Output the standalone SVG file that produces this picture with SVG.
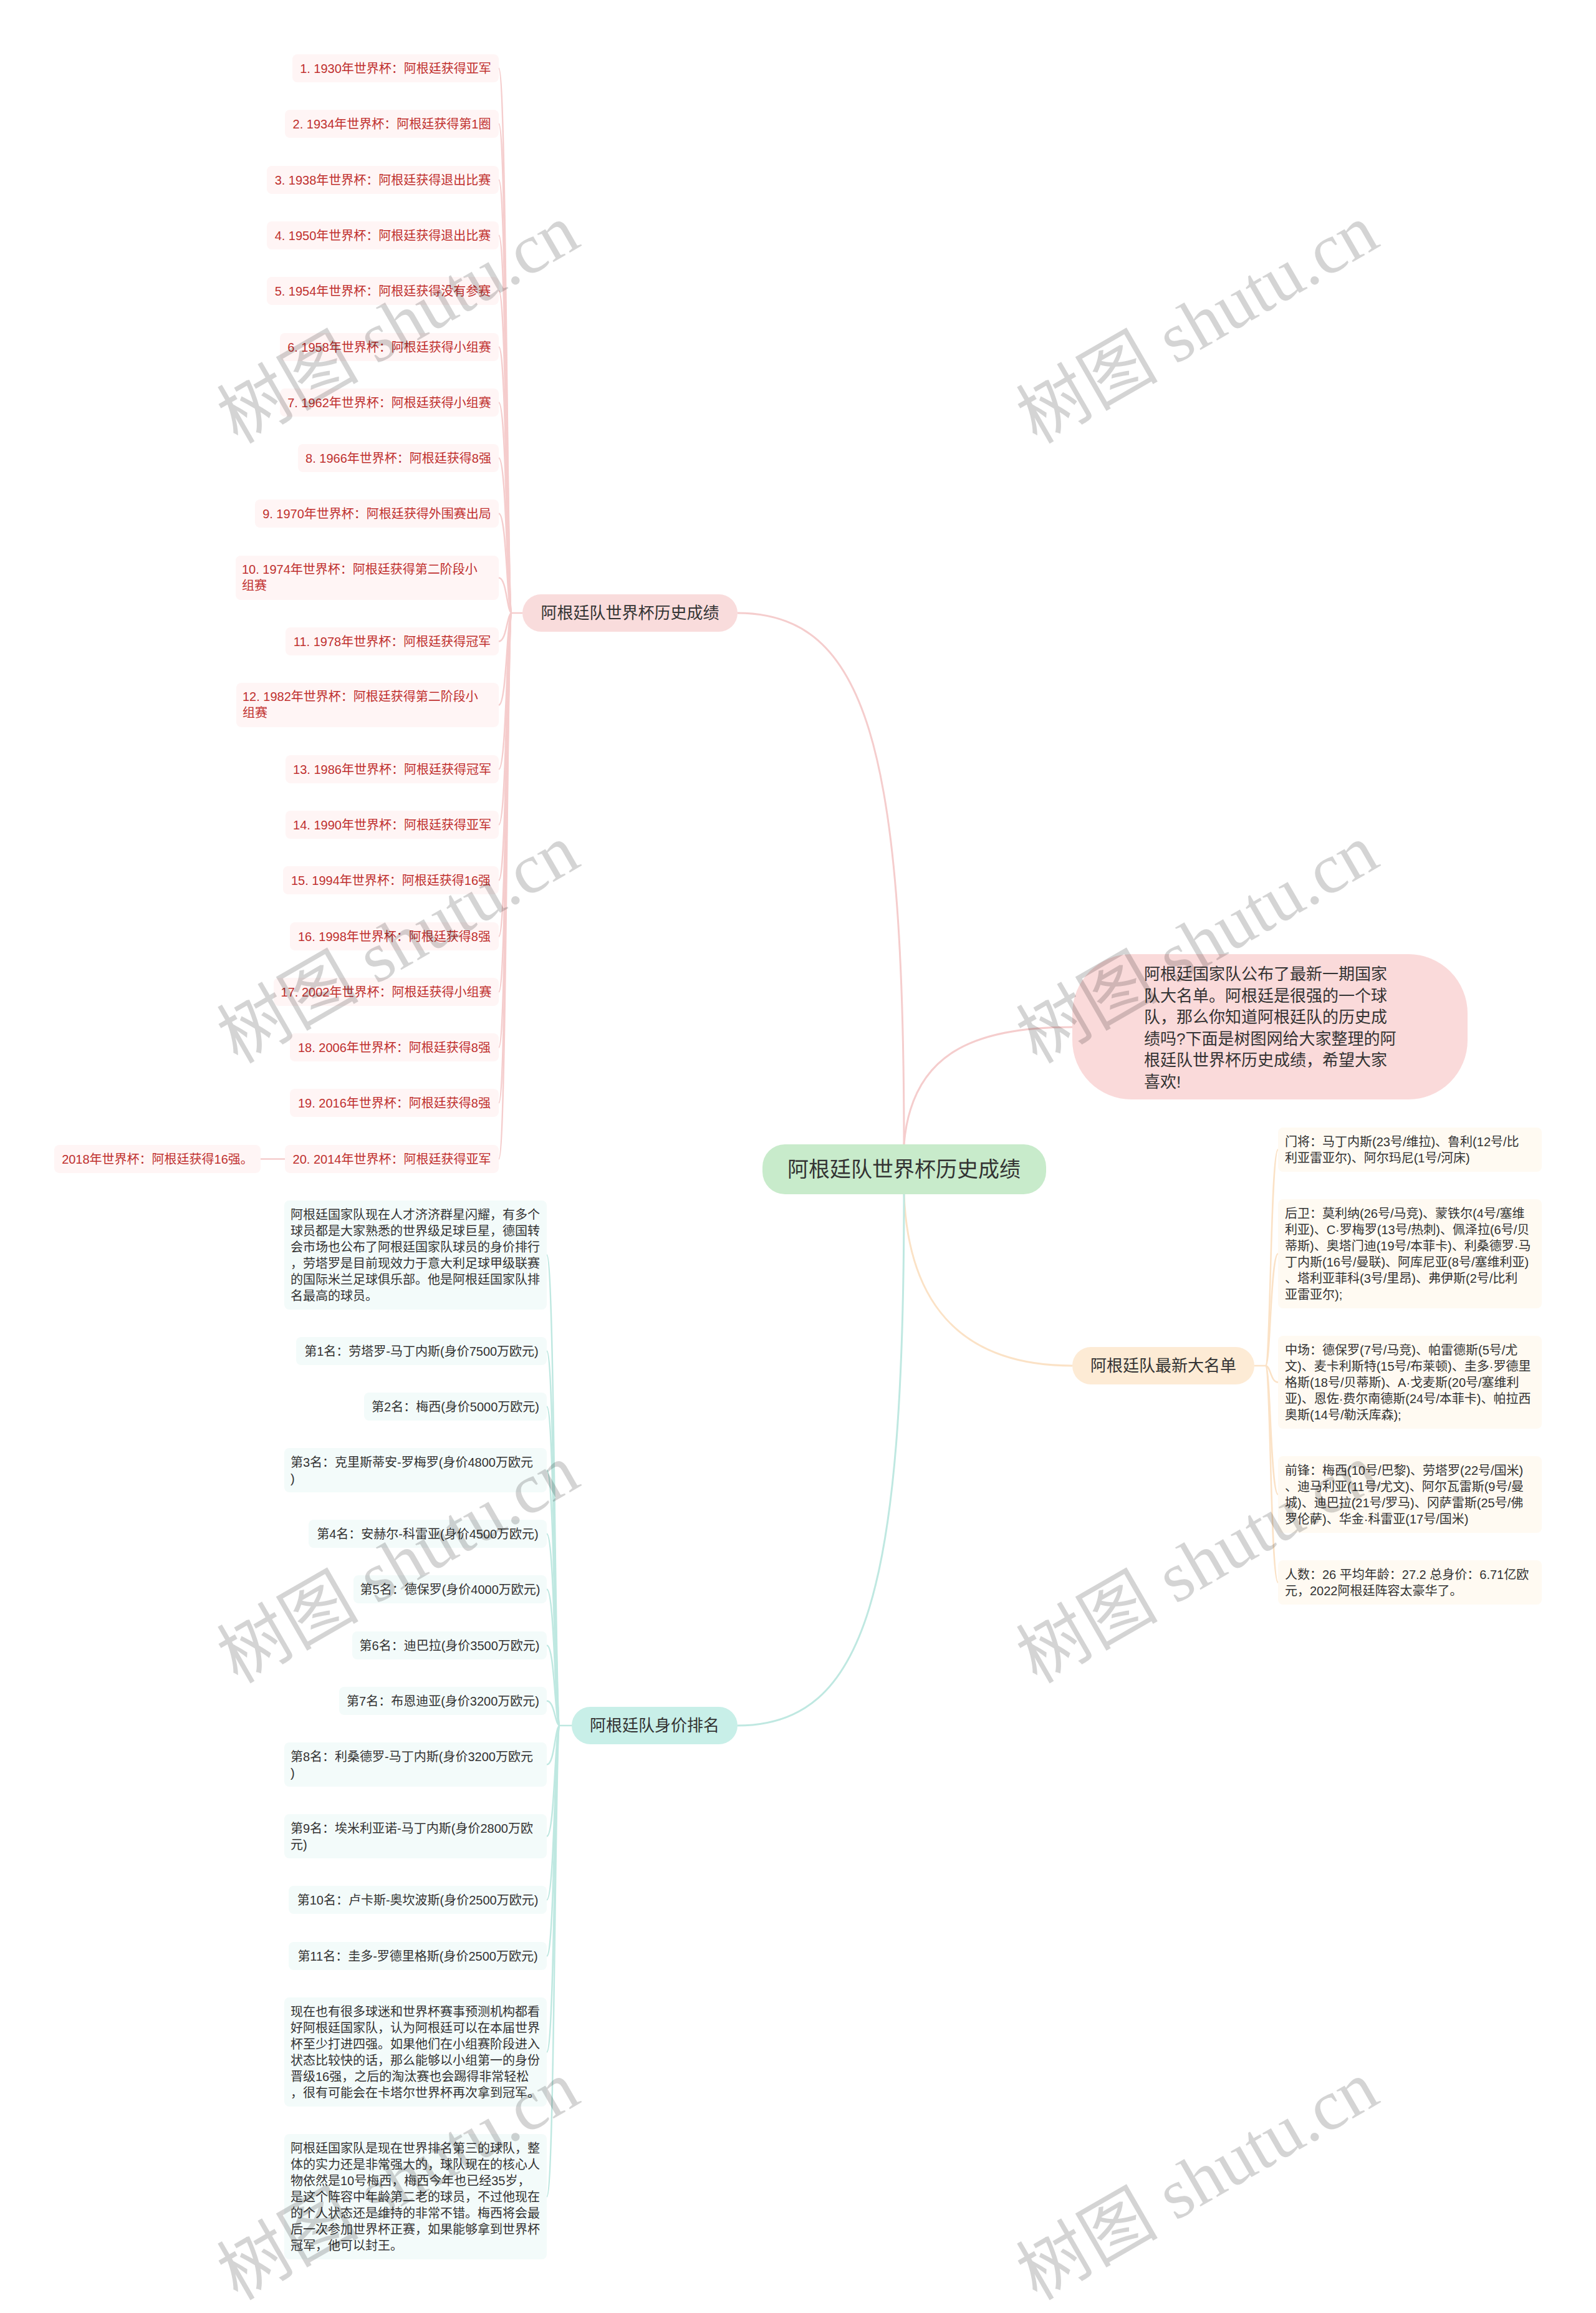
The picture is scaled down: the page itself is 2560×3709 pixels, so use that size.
<svg xmlns="http://www.w3.org/2000/svg" width="2560" height="3709" viewBox="0 0 2560 3709">
<style>
text{font-family:"Liberation Sans","Noto Sans CJK SC",sans-serif;}
.cp{fill:none;stroke:#f5cdcd;stroke-width:2.5}
.co{fill:none;stroke:#fbe2c6;stroke-width:2.5}
.ct{fill:none;stroke:#bfe8e1;stroke-width:2.5}
.main{stroke-width:3}
.r1{fill:#fff5f5}
.r3{fill:#fffaf2}
.r4{fill:#f3fbfa}
.t1{font-size:20px;fill:#c0302e}
.t20{font-size:20px;fill:#333}
.t26{font-size:26px;fill:#333}
.mid{text-anchor:middle}
.wm{font-family:"Liberation Serif","Noto Sans CJK SC",serif;font-size:114px;fill:#000;fill-opacity:0.17;text-anchor:middle}
</style>
<rect x="0" y="0" width="2560" height="3709" fill="#fff"/>
<g id="connectors">
<path class="cp main" d="M1450 1835 C1450 1200 1390 983 1183 983"/>
<path class="cp main" d="M1450 1835 C1462 1690 1560 1647 1720 1647"/>
<path class="co main" d="M1450 1915 C1458 2110 1560 2190 1720 2190"/>
<path class="ct main" d="M1450 1915 C1450 2550 1390 2767 1183 2767"/>
<path class="cp" d="M838 983 H821"/>
<path class="cp" d="M821 983 C813 983 813 109.5 800 109.5"/>
<path class="cp" d="M821 983 C813 983 813 198.5 800 198.5"/>
<path class="cp" d="M821 983 C813 983 813 288.5 800 288.5"/>
<path class="cp" d="M821 983 C813 983 813 377.5 800 377.5"/>
<path class="cp" d="M821 983 C813 983 813 466.5 800 466.5"/>
<path class="cp" d="M821 983 C813 983 813 556.5 800 556.5"/>
<path class="cp" d="M821 983 C813 983 813 645.5 800 645.5"/>
<path class="cp" d="M821 983 C813 983 813 734.5 800 734.5"/>
<path class="cp" d="M821 983 C813 983 813 823.5 800 823.5"/>
<path class="cp" d="M821 983 C813 983 813 926.5 800 926.5"/>
<path class="cp" d="M821 983 C813 983 813 1028.5 800 1028.5"/>
<path class="cp" d="M821 983 C813 983 813 1130.5 800 1130.5"/>
<path class="cp" d="M821 983 C813 983 813 1233.5 800 1233.5"/>
<path class="cp" d="M821 983 C813 983 813 1322.5 800 1322.5"/>
<path class="cp" d="M821 983 C813 983 813 1411.5 800 1411.5"/>
<path class="cp" d="M821 983 C813 983 813 1501.5 800 1501.5"/>
<path class="cp" d="M821 983 C813 983 813 1590.5 800 1590.5"/>
<path class="cp" d="M821 983 C813 983 813 1679.5 800 1679.5"/>
<path class="cp" d="M821 983 C813 983 813 1768.5 800 1768.5"/>
<path class="cp" d="M821 983 C813 983 813 1858.5 800 1858.5"/>
<path class="cp" d="M457 1858.5 H418"/>
<path class="co" d="M2012 2190 H2030"/>
<path class="co" d="M2030 2190 C2038 2190 2038 1843.5 2050 1843.5"/>
<path class="co" d="M2030 2190 C2038 2190 2038 2010.5 2050 2010.5"/>
<path class="co" d="M2030 2190 C2038 2190 2038 2216.5 2050 2216.5"/>
<path class="co" d="M2030 2190 C2038 2190 2038 2396.5 2050 2396.5"/>
<path class="co" d="M2030 2190 C2038 2190 2038 2537.5 2050 2537.5"/>
<path class="ct" d="M917 2767 H898"/>
<path class="ct" d="M898 2767 C890 2767 890 2012.5 877 2012.5"/>
<path class="ct" d="M898 2767 C890 2767 890 2166.5 877 2166.5"/>
<path class="ct" d="M898 2767 C890 2767 890 2255.5 877 2255.5"/>
<path class="ct" d="M898 2767 C890 2767 890 2357.5 877 2357.5"/>
<path class="ct" d="M898 2767 C890 2767 890 2459.5 877 2459.5"/>
<path class="ct" d="M898 2767 C890 2767 890 2548.5 877 2548.5"/>
<path class="ct" d="M898 2767 C890 2767 890 2638.5 877 2638.5"/>
<path class="ct" d="M898 2767 C890 2767 890 2727.5 877 2727.5"/>
<path class="ct" d="M898 2767 C890 2767 890 2829.5 877 2829.5"/>
<path class="ct" d="M898 2767 C890 2767 890 2944.5 877 2944.5"/>
<path class="ct" d="M898 2767 C890 2767 890 3046.5 877 3046.5"/>
<path class="ct" d="M898 2767 C890 2767 890 3136.5 877 3136.5"/>
<path class="ct" d="M898 2767 C890 2767 890 3290.5 877 3290.5"/>
<path class="ct" d="M898 2767 C890 2767 890 3522.5 877 3522.5"/>
</g>
<g id="center"><rect x="1223" y="1835" width="455" height="80" rx="36" fill="#c8ebcb"/><text class="mid" x="1450" y="1887" font-size="34" fill="#333">阿根廷队世界杯历史成绩</text></g>
<g id="intro"><rect x="1720" y="1530" width="634" height="233" rx="95" fill="#fadada"/>
<text class="t26" x="1835" y="1571">阿根廷国家队公布了最新一期国家</text>
<text class="t26" x="1835" y="1605.6">队大名单。阿根廷是很强的一个球</text>
<text class="t26" x="1835" y="1640.2">队，那么你知道阿根廷队的历史成</text>
<text class="t26" x="1835" y="1674.8">绩吗?下面是树图网给大家整理的阿</text>
<text class="t26" x="1835" y="1709.4">根廷队世界杯历史成绩，希望大家</text>
<text class="t26" x="1835" y="1744">喜欢!</text></g>
<g id="branch-history"><rect x="838" y="953" width="345" height="60" rx="30" fill="#f9dcdc"/><text class="t26 mid" x="1010.5" y="992">阿根廷队世界杯历史成绩</text></g>
<g id="branch-squad"><rect x="1720" y="2160" width="292" height="60" rx="30" fill="#fdebd5"/><text class="t26 mid" x="1866" y="2199">阿根廷队最新大名单</text></g>
<g id="branch-value"><rect x="917" y="2737" width="266" height="60" rx="30" fill="#c8efe8"/><text class="t26 mid" x="1050" y="2776">阿根廷队身价排名</text></g>
<g id="h1"><rect class="r1" x="469" y="87" width="331" height="45" rx="8"/><text class="t1 mid" x="634.5" y="116.5">1. 1930年世界杯：阿根廷获得亚军</text></g>
<g id="h2"><rect class="r1" x="457" y="176" width="343" height="45" rx="8"/><text class="t1 mid" x="628.5" y="205.5">2. 1934年世界杯：阿根廷获得第1圈</text></g>
<g id="h3"><rect class="r1" x="428" y="266" width="372" height="45" rx="8"/><text class="t1 mid" x="614" y="295.5">3. 1938年世界杯：阿根廷获得退出比赛</text></g>
<g id="h4"><rect class="r1" x="428" y="355" width="372" height="45" rx="8"/><text class="t1 mid" x="614" y="384.5">4. 1950年世界杯：阿根廷获得退出比赛</text></g>
<g id="h5"><rect class="r1" x="428" y="444" width="372" height="45" rx="8"/><text class="t1 mid" x="614" y="473.5">5. 1954年世界杯：阿根廷获得没有参赛</text></g>
<g id="h6"><rect class="r1" x="449" y="534" width="351" height="45" rx="8"/><text class="t1 mid" x="624.5" y="563.5">6. 1958年世界杯：阿根廷获得小组赛</text></g>
<g id="h7"><rect class="r1" x="449" y="623" width="351" height="45" rx="8"/><text class="t1 mid" x="624.5" y="652.5">7. 1962年世界杯：阿根廷获得小组赛</text></g>
<g id="h8"><rect class="r1" x="478" y="712" width="322" height="45" rx="8"/><text class="t1 mid" x="639" y="741.5">8. 1966年世界杯：阿根廷获得8强</text></g>
<g id="h9"><rect class="r1" x="409" y="801" width="391" height="45" rx="8"/><text class="t1 mid" x="604.5" y="830.5">9. 1970年世界杯：阿根廷获得外围赛出局</text></g>
<g id="h10"><rect class="r1" x="378" y="891" width="422" height="71" rx="8"/><text class="t1" x="388" y="920">10. 1974年世界杯：阿根廷获得第二阶段小</text><text class="t1" x="388" y="946">组赛</text></g>
<g id="h11"><rect class="r1" x="458" y="1006" width="342" height="45" rx="8"/><text class="t1 mid" x="629" y="1035.5">11. 1978年世界杯：阿根廷获得冠军</text></g>
<g id="h12"><rect class="r1" x="379" y="1095" width="421" height="71" rx="8"/><text class="t1" x="389" y="1124">12. 1982年世界杯：阿根廷获得第二阶段小</text><text class="t1" x="389" y="1150">组赛</text></g>
<g id="h13"><rect class="r1" x="458" y="1211" width="342" height="45" rx="8"/><text class="t1 mid" x="629" y="1240.5">13. 1986年世界杯：阿根廷获得冠军</text></g>
<g id="h14"><rect class="r1" x="458" y="1300" width="342" height="45" rx="8"/><text class="t1 mid" x="629" y="1329.5">14. 1990年世界杯：阿根廷获得亚军</text></g>
<g id="h15"><rect class="r1" x="454" y="1389" width="346" height="45" rx="8"/><text class="t1 mid" x="627" y="1418.5">15. 1994年世界杯：阿根廷获得16强</text></g>
<g id="h16"><rect class="r1" x="465" y="1479" width="335" height="45" rx="8"/><text class="t1 mid" x="632.5" y="1508.5">16. 1998年世界杯：阿根廷获得8强</text></g>
<g id="h17"><rect class="r1" x="439" y="1568" width="361" height="45" rx="8"/><text class="t1 mid" x="619.5" y="1597.5">17. 2002年世界杯：阿根廷获得小组赛</text></g>
<g id="h18"><rect class="r1" x="465" y="1657" width="335" height="45" rx="8"/><text class="t1 mid" x="632.5" y="1686.5">18. 2006年世界杯：阿根廷获得8强</text></g>
<g id="h19"><rect class="r1" x="465" y="1746" width="335" height="45" rx="8"/><text class="t1 mid" x="632.5" y="1775.5">19. 2016年世界杯：阿根廷获得8强</text></g>
<g id="h20"><rect class="r1" x="457" y="1836" width="343" height="45" rx="8"/><text class="t1 mid" x="628.5" y="1865.5">20. 2014年世界杯：阿根廷获得亚军</text></g>
<g id="h2018"><rect class="r1" x="87" y="1836" width="331" height="45" rx="8"/><text class="t1 mid" x="252.5" y="1865.5">2018年世界杯：阿根廷获得16强。</text></g>
<g id="s1"><rect class="r3" x="2050" y="1808" width="423" height="71" rx="8"/>
<text class="t20" x="2061" y="1837.5">门将：马丁内斯(23号/维拉)、鲁利(12号/比</text>
<text class="t20" x="2061" y="1863.5">利亚雷亚尔)、阿尔玛尼(1号/河床)</text></g>
<g id="s2"><rect class="r3" x="2050" y="1923" width="423" height="175" rx="8"/>
<text class="t20" x="2061" y="1952.5">后卫：莫利纳(26号/马竞)、蒙铁尔(4号/塞维</text>
<text class="t20" x="2061" y="1978.5">利亚)、C·罗梅罗(13号/热刺)、佩泽拉(6号/贝</text>
<text class="t20" x="2061" y="2004.5">蒂斯)、奥塔门迪(19号/本菲卡)、利桑德罗·马</text>
<text class="t20" x="2061" y="2030.5">丁内斯(16号/曼联)、阿库尼亚(8号/塞维利亚)</text>
<text class="t20" x="2061" y="2056.5">、塔利亚菲科(3号/里昂)、弗伊斯(2号/比利</text>
<text class="t20" x="2061" y="2082.5">亚雷亚尔);</text></g>
<g id="s3"><rect class="r3" x="2050" y="2142" width="423" height="149" rx="8"/>
<text class="t20" x="2061" y="2171.5">中场：德保罗(7号/马竞)、帕雷德斯(5号/尤</text>
<text class="t20" x="2061" y="2197.5">文)、麦卡利斯特(15号/布莱顿)、圭多·罗德里</text>
<text class="t20" x="2061" y="2223.5">格斯(18号/贝蒂斯)、A·戈麦斯(20号/塞维利</text>
<text class="t20" x="2061" y="2249.5">亚)、恩佐·费尔南德斯(24号/本菲卡)、帕拉西</text>
<text class="t20" x="2061" y="2275.5">奥斯(14号/勒沃库森);</text></g>
<g id="s4"><rect class="r3" x="2050" y="2335" width="423" height="123" rx="8"/>
<text class="t20" x="2061" y="2364.5">前锋：梅西(10号/巴黎)、劳塔罗(22号/国米)</text>
<text class="t20" x="2061" y="2390.5">、迪马利亚(11号/尤文)、阿尔瓦雷斯(9号/曼</text>
<text class="t20" x="2061" y="2416.5">城)、迪巴拉(21号/罗马)、冈萨雷斯(25号/佛</text>
<text class="t20" x="2061" y="2442.5">罗伦萨)、华金·科雷亚(17号/国米)</text></g>
<g id="s5"><rect class="r3" x="2050" y="2502" width="423" height="71" rx="8"/>
<text class="t20" x="2061" y="2531.5">人数：26 平均年龄：27.2 总身价：6.71亿欧</text>
<text class="t20" x="2061" y="2557.5">元，2022阿根廷阵容太豪华了。</text></g>
<g id="v0"><rect class="r4" x="456" y="1925" width="421" height="175" rx="8"/>
<text class="t20" x="466" y="1954.5">阿根廷国家队现在人才济济群星闪耀，有多个</text>
<text class="t20" x="466" y="1980.5">球员都是大家熟悉的世界级足球巨星，德国转</text>
<text class="t20" x="466" y="2006.5">会市场也公布了阿根廷国家队球员的身价排行</text>
<text class="t20" x="466" y="2032.5">，劳塔罗是目前现效力于意大利足球甲级联赛</text>
<text class="t20" x="466" y="2058.5">的国际米兰足球俱乐部。他是阿根廷国家队排</text>
<text class="t20" x="466" y="2084.5">名最高的球员。</text></g>
<g id="v1"><rect class="r4" x="475" y="2144" width="402" height="45" rx="8"/><text class="t20 mid" x="676" y="2173.5">第1名：劳塔罗-马丁内斯(身价7500万欧元)</text></g>
<g id="v2"><rect class="r4" x="584" y="2233" width="293" height="45" rx="8"/><text class="t20 mid" x="730.5" y="2262.5">第2名：梅西(身价5000万欧元)</text></g>
<g id="v3"><rect class="r4" x="456" y="2322" width="421" height="71" rx="8"/><text class="t20" x="466" y="2351.5">第3名：克里斯蒂安-罗梅罗(身价4800万欧元</text><text class="t20" x="466" y="2377.5">)</text></g>
<g id="v4"><rect class="r4" x="495" y="2437" width="382" height="45" rx="8"/><text class="t20 mid" x="686" y="2466.5">第4名：安赫尔-科雷亚(身价4500万欧元)</text></g>
<g id="v5"><rect class="r4" x="567" y="2526" width="310" height="45" rx="8"/><text class="t20 mid" x="722" y="2555.5">第5名：德保罗(身价4000万欧元)</text></g>
<g id="v6"><rect class="r4" x="565" y="2616" width="312" height="45" rx="8"/><text class="t20 mid" x="721" y="2645.5">第6名：迪巴拉(身价3500万欧元)</text></g>
<g id="v7"><rect class="r4" x="544" y="2705" width="333" height="45" rx="8"/><text class="t20 mid" x="710.5" y="2734.5">第7名：布恩迪亚(身价3200万欧元)</text></g>
<g id="v8"><rect class="r4" x="456" y="2794" width="421" height="71" rx="8"/><text class="t20" x="466" y="2823.5">第8名：利桑德罗-马丁内斯(身价3200万欧元</text><text class="t20" x="466" y="2849.5">)</text></g>
<g id="v9"><rect class="r4" x="456" y="2909" width="421" height="71" rx="8"/><text class="t20" x="466" y="2938.5">第9名：埃米利亚诺-马丁内斯(身价2800万欧</text><text class="t20" x="466" y="2964.5">元)</text></g>
<g id="v10"><rect class="r4" x="463" y="3024" width="414" height="45" rx="8"/><text class="t20 mid" x="670" y="3053.5">第10名：卢卡斯-奥坎波斯(身价2500万欧元)</text></g>
<g id="v11"><rect class="r4" x="463" y="3114" width="414" height="45" rx="8"/><text class="t20 mid" x="670" y="3143.5">第11名：圭多-罗德里格斯(身价2500万欧元)</text></g>
<g id="v12"><rect class="r4" x="456" y="3203" width="421" height="175" rx="8"/>
<text class="t20" x="466" y="3232.5">现在也有很多球迷和世界杯赛事预测机构都看</text>
<text class="t20" x="466" y="3258.5">好阿根廷国家队，认为阿根廷可以在本届世界</text>
<text class="t20" x="466" y="3284.5">杯至少打进四强。如果他们在小组赛阶段进入</text>
<text class="t20" x="466" y="3310.5">状态比较快的话，那么能够以小组第一的身份</text>
<text class="t20" x="466" y="3336.5">晋级16强，之后的淘汰赛也会踢得非常轻松</text>
<text class="t20" x="466" y="3362.5">，很有可能会在卡塔尔世界杯再次拿到冠军。</text></g>
<g id="v13"><rect class="r4" x="456" y="3422" width="421" height="201" rx="8"/>
<text class="t20" x="466" y="3451.5">阿根廷国家队是现在世界排名第三的球队，整</text>
<text class="t20" x="466" y="3477.5">体的实力还是非常强大的，球队现在的核心人</text>
<text class="t20" x="466" y="3503.5">物依然是10号梅西，梅西今年也已经35岁，</text>
<text class="t20" x="466" y="3529.5">是这个阵容中年龄第二老的球员，不过他现在</text>
<text class="t20" x="466" y="3555.5">的个人状态还是维持的非常不错。梅西将会最</text>
<text class="t20" x="466" y="3581.5">后一次参加世界杯正赛，如果能够拿到世界杯</text>
<text class="t20" x="466" y="3607.5">冠军，他可以封王。</text></g>
<g id="watermarks">
<text class="wm" x="658" y="553" transform="rotate(-30 658 553)">树图 shutu.cn</text>
<text class="wm" x="1940" y="553" transform="rotate(-30 1940 553)">树图 shutu.cn</text>
<text class="wm" x="658" y="1547" transform="rotate(-30 658 1547)">树图 shutu.cn</text>
<text class="wm" x="1940" y="1547" transform="rotate(-30 1940 1547)">树图 shutu.cn</text>
<text class="wm" x="658" y="2541" transform="rotate(-30 658 2541)">树图 shutu.cn</text>
<text class="wm" x="1940" y="2541" transform="rotate(-30 1940 2541)">树图 shutu.cn</text>
<text class="wm" x="658" y="3530" transform="rotate(-30 658 3530)">树图 shutu.cn</text>
<text class="wm" x="1940" y="3530" transform="rotate(-30 1940 3530)">树图 shutu.cn</text>
</g>
</svg>
